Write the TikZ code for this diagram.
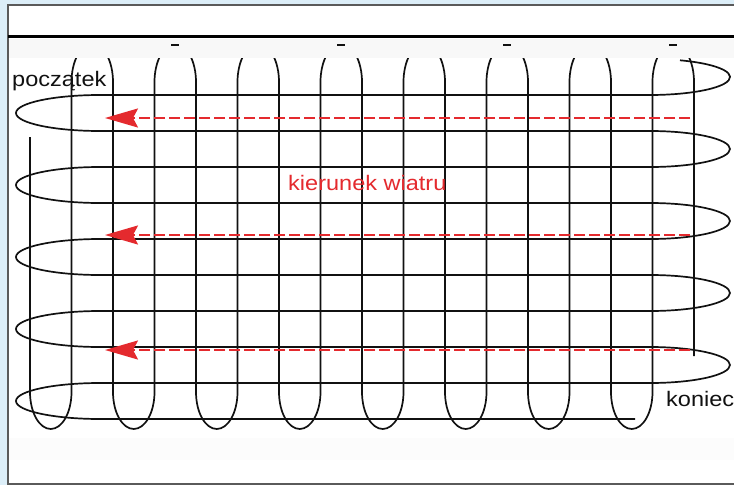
\documentclass[tikz,border=0pt]{standalone}
\usepackage{fontspec}
\setmainfont{Liberation Sans}
\usetikzlibrary{arrows.meta}
\definecolor{ink}{HTML}{111111}
\definecolor{sky}{HTML}{DCEEF8}
\definecolor{frame}{HTML}{5A5A5A}
\definecolor{haze}{HTML}{F8F8F8}
\definecolor{wind}{HTML}{E42A2E}
\tikzset{
  every node/.style={font=\fontsize{21}{24}\selectfont,text=ink,inner sep=0pt,xscale=1.12},
  wire/.style={draw=ink,line width=1.7pt},
  gust/.style={-{Stealth[length=33pt,width=19pt,inset=5pt]},draw=wind,
               line width=2.2pt,dash pattern=on 11pt off 4pt},
  tag/.style={anchor=base west},
}

\begin{document}
\begin{tikzpicture}[x=1pt,y=-1pt]           % pixel units, y down
\useasboundingbox (0,0) rectangle (734,485);
\fill[sky] (0,0) rectangle (734,485);
\filldraw[fill=white,draw=frame,line width=1.3pt] (8,5) rectangle (742,484);
\draw[black,line width=3.4pt] (8,36.3) -- (734,36.3);

% Vertical serpentine: 17 legs, 41.5 apart, U-turns alternately at the bottom and top.
\draw[wire] (30,137) -- (30,392)
  \foreach \i in {0,2,...,12}{
    arc[start angle=180,end angle=0,x radius=20.75,y radius=37] -- ++(0,-310)
    arc[start angle=180,end angle=360,x radius=20.75,y radius=38] -- ++(0,310)}
  arc[start angle=180,end angle=0,x radius=20.75,y radius=37] -- ++(0,-310)
  arc[start angle=180,end angle=360,x radius=20.75,y radius=38] -- (694,356);

% Horizontal serpentine: 11 runs, 36 apart, loops alternately right and left.
\draw[wire] (680,60.3) arc[start angle=-68,end angle=90,x radius=80,y radius=18]
  \foreach \y in {95,167,239,311}{
    -- (100,\y) arc[start angle=270,end angle=90,x radius=84,y radius=18]
    -- (650,\y+36) arc[start angle=-90,end angle=90,x radius=80,y radius=18]}
  -- (100,383) arc[start angle=270,end angle=90,x radius=84,y radius=18] -- (635,419);

% the faint bands over the top turns and the bottom
\fill[haze] (9,39) rectangle (734,58);
\fill[haze!35] (9,438) rectangle (734,460);
\foreach \xx in {175.25,341.25,507.25,673.25}
  \draw[ink,line width=1.4pt] (\xx-4,45) -- (\xx+4,45);

% Wind direction arrows
\foreach \n/\yy in {1/118,2/235,3/350}{
  \coordinate (from\n) at (690,\yy);
  \coordinate (to\n) at (105,\yy);
  \draw[gust] (from\n) -- (to\n);
}

\node[tag] (start) at (12,86) {początek};
\node[tag] (stop) at (666,406) {koniec};
\node[tag,text=wind] (direction) at (288,190.7) {kierunek wiatru};

\end{tikzpicture}
\end{document}
